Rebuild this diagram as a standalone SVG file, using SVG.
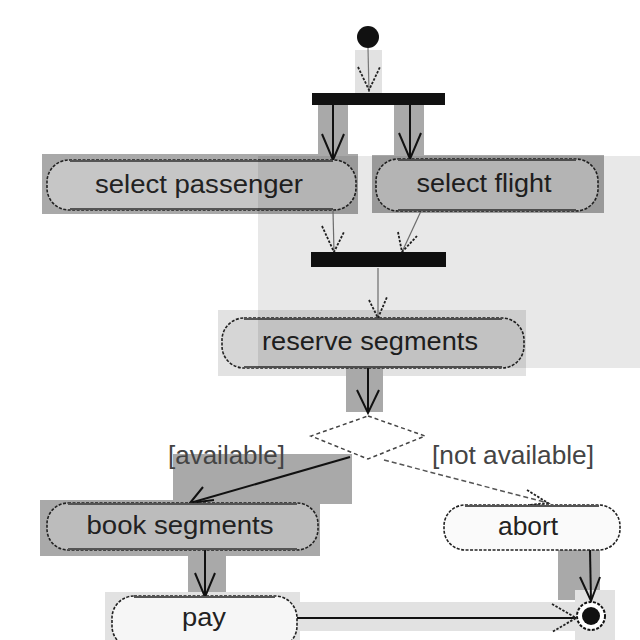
<svg xmlns="http://www.w3.org/2000/svg" width="640" height="640" viewBox="0 0 640 640">
  <defs>
    <style>
      .hl-mid { fill: #a9a9a9; }
      .hl-light { fill: #e2e2e2; }
      .bar { fill: #111; }
      .pill { stroke: #222; stroke-width: 1.6; stroke-dasharray: 3 1.5; }
      .edge { stroke: #555; stroke-width: 2.2; }
      .label { font-family: "Liberation Sans", Arial, sans-serif; font-size: 26px; fill: #222; }
      .guard { font-family: "Liberation Sans", Arial, sans-serif; font-size: 25px; fill: #444; }
      .flow { fill: none; stroke: #111; stroke-width: 2; }
      .thin { fill: none; stroke: #777; stroke-width: 1.2; }
      .head { fill: none; stroke: #222; stroke-width: 1.8; stroke-dasharray: 2.5 1.5; }
      .dash { fill: none; stroke: #555; stroke-width: 1.5; stroke-dasharray: 5 3; }
    </style>
  </defs>
  <rect width="640" height="640" fill="#fff"/>

  <!-- selection highlights -->
  <g id="highlights">
    <rect class="hl-light" x="355" y="50" width="27" height="43"/>
    <rect class="hl-mid" x="318" y="104" width="30" height="56"/>
    <rect class="hl-mid" x="394" y="104" width="30" height="56"/>
    <rect class="hl-mid" x="42" y="154" width="316" height="60"/>
    <rect class="hl-mid" x="372" y="155" width="232" height="58"/>
    <rect class="hl-light" x="218" y="310" width="308" height="66"/>
    <rect class="hl-mid" x="346" y="368" width="37" height="44"/>
    <rect class="hl-mid" x="173" y="454" width="179" height="50"/>
    <rect class="hl-mid" x="40" y="500" width="280" height="56"/>
    <rect class="hl-mid" x="188" y="548" width="38" height="52"/>
    <rect class="hl-mid" x="558" y="550" width="42" height="50"/>
    <rect class="hl-light" x="105" y="592" width="195" height="48"/>
    <rect class="hl-light" x="297" y="602" width="283" height="29"/>
    <rect class="hl-light" x="575" y="590" width="40" height="50"/>
  </g>

  <!-- control flows -->
  <g id="connectors">
    <!-- start to fork -->
    <line class="thin" x1="368" y1="48" x2="369" y2="92"/>
    <polyline class="head" points="358,67 369,90 380,67"/>
    <!-- fork to actions -->
    <line class="flow" x1="333" y1="104" x2="333" y2="160"/>
    <polyline class="flow" points="322,134 333,160 344,134"/>
    <line class="flow" x1="410" y1="104" x2="410" y2="159"/>
    <polyline class="flow" points="399,133 410,159 421,133"/>
    <!-- actions to join -->
    <line class="thin" x1="333" y1="211" x2="334" y2="252"/>
    <polyline class="head" points="322,226 334,252 344,232"/>
    <line class="thin" x1="421" y1="211" x2="402" y2="252"/>
    <polyline class="head" points="398,232 402,252 417,236"/>
    <!-- join to reserve segments -->
    <line class="thin" x1="378" y1="268" x2="378" y2="318"/>
    <polyline class="head" points="369,300 378,318 387,297"/>
    <!-- reserve segments to decision -->
    <line class="flow" x1="368" y1="368" x2="368" y2="413"/>
    <polyline class="flow" points="357,390 368,413 379,390"/>
    <!-- decision to book segments -->
    <line class="flow" x1="350" y1="457" x2="190" y2="503"/>
    <polyline class="flow" points="203,487 190,503 214,500"/>
    <!-- decision to abort -->
    <line class="dash" x1="384" y1="460" x2="548" y2="503"/>
    <polyline class="head" points="527,490 548,503 528,505"/>
    <!-- book segments to pay -->
    <line class="flow" x1="205" y1="550" x2="205" y2="597"/>
    <polyline class="flow" points="195,573 205,597 215,573"/>
    <!-- abort to final -->
    <line class="flow" x1="590" y1="550" x2="591" y2="601"/>
    <polyline class="flow" points="580,577 591,601 600,577"/>
    <!-- pay to final -->
    <line class="flow" x1="297" y1="618" x2="576" y2="618"/>
    <polyline class="head" points="552,604 576,618 552,632"/>
  </g>

  <g id="start">
    <circle cx="368" cy="37" r="11" fill="#111"/>
  </g>

  <g id="fork">
    <rect class="bar" x="312" y="93" width="133" height="12"/>
  </g>

  <g id="select-passenger">
    <rect class="pill" x="47" y="160" width="309" height="50" rx="22" fill="#c6c6c6"/>
    <line class="edge" x1="70" y1="161" x2="333" y2="161"/>
    <line class="edge" x1="70" y1="209" x2="333" y2="209"/>
    <text class="label" x="199" y="193" text-anchor="middle" textLength="208" lengthAdjust="spacingAndGlyphs">select passenger</text>
  </g>

  <g id="select-flight">
    <rect class="pill" x="376" y="159" width="222" height="52" rx="22" fill="#c6c6c6"/>
    <line class="edge" x1="398" y1="160" x2="576" y2="160"/>
    <line class="edge" x1="398" y1="210" x2="576" y2="210"/>
    <text class="label" x="484" y="192" text-anchor="middle" textLength="135" lengthAdjust="spacingAndGlyphs">select flight</text>
  </g>

  <g id="join">
    <rect class="bar" x="311" y="252" width="135" height="15"/>
  </g>

  <g id="reserve-segments">
    <rect class="pill" x="222" y="318" width="302" height="50" rx="22" fill="#d6d6d6"/>
    <line class="edge" x1="244" y1="319" x2="502" y2="319"/>
    <line class="edge" x1="244" y1="367" x2="502" y2="367"/>
    <text class="label" x="370" y="350" text-anchor="middle" textLength="216" lengthAdjust="spacingAndGlyphs">reserve segments</text>
  </g>

  <g id="decision">
    <polygon points="368,416 425,436 368,459 311,436" fill="#fff" stroke="#444" stroke-width="1.5" stroke-dasharray="4 3"/>
    <text class="guard" x="168" y="464" textLength="117" lengthAdjust="spacingAndGlyphs">[available]</text>
    <text class="guard" x="432" y="464" textLength="162" lengthAdjust="spacingAndGlyphs">[not available]</text>
  </g>

  <g id="book-segments">
    <rect class="pill" x="47" y="503" width="271" height="47" rx="21" fill="#bcbcbc"/>
    <line class="edge" x1="68" y1="504" x2="297" y2="504"/>
    <line class="edge" x1="68" y1="549" x2="297" y2="549"/>
    <text class="label" x="180" y="534" text-anchor="middle" textLength="187" lengthAdjust="spacingAndGlyphs">book segments</text>
  </g>

  <g id="abort">
    <rect class="pill" x="444" y="505" width="176" height="45" rx="21" fill="#fafafa"/>
    <line class="edge" x1="465" y1="506" x2="599" y2="506"/>
    <text class="label" x="528" y="535" text-anchor="middle" textLength="60" lengthAdjust="spacingAndGlyphs">abort</text>
  </g>

  <g id="pay">
    <rect class="pill" x="112" y="596" width="185" height="52" rx="22" fill="#f6f6f6"/>
    <line class="edge" x1="134" y1="597" x2="275" y2="597"/>
    <text class="label" x="204" y="626" text-anchor="middle" textLength="44" lengthAdjust="spacingAndGlyphs">pay</text>
  </g>

  <g id="final">
    <circle cx="591" cy="616" r="14" fill="#fff" stroke="#111" stroke-width="2" stroke-dasharray="3 1.5"/>
    <circle cx="591" cy="616" r="9" fill="#111"/>
  </g>

  <!-- wide light selection over the right half -->
  <rect x="258" y="156" width="382" height="212" fill="#000" fill-opacity="0.09"/>
</svg>
